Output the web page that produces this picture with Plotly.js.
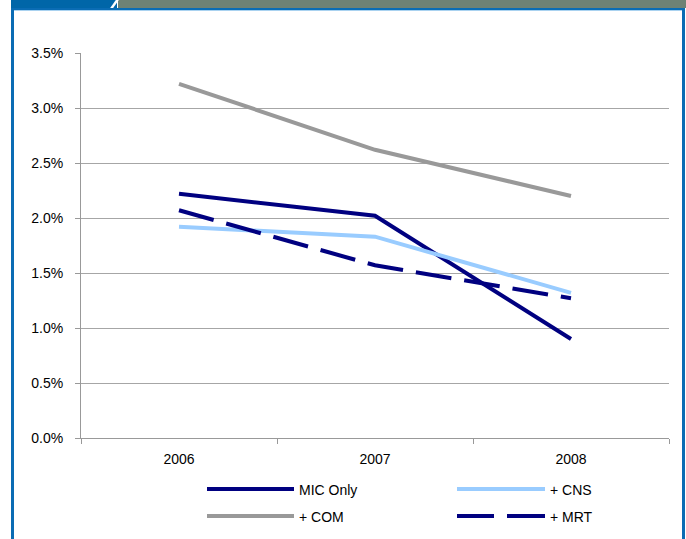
<!DOCTYPE html>
<html>
<head>
<meta charset="utf-8">
<script src="https://cdn.plot.ly/plotly-3.0.1.min.js"></script>
<style>
  html, body { margin: 0; padding: 0; background: #ffffff; }
  #wrap { position: relative; width: 686px; height: 539px; overflow: hidden; }
  #chart { position: absolute; left: 0; top: 0; width: 686px; height: 539px; }
  /* slide-style frame around the chart */
  .hdr-blue { position: absolute; left: 11px; top: 0; width: 106px; height: 8px; background: #0066a8; }
  .hdr-grey { position: absolute; left: 118px; top: 0; width: 568px; height: 8px; background: #6e8275; }
  .hdr-cut { position: absolute; left: 113px; top: -2px; width: 3px; height: 12px; background: #ffffff; transform: skewX(-35deg); }
  .rule { position: absolute; left: 11px; top: 8px; width: 674px; height: 2px; background: #0a6cb4; }
  .rule2 { position: absolute; left: 13px; top: 10px; width: 669px; height: 1px; background: #a9d2f0; }
  .side-l { position: absolute; left: 11px; top: 8px; width: 3px; height: 531px; background: #0a6cb4; }
  .side-r { position: absolute; left: 682px; top: 8px; width: 3px; height: 531px; background: #0a6cb4; }
</style>
</head>
<body>
<div id="wrap">
  <div id="chart"></div>
  <div class="hdr-blue"></div>
  <div class="hdr-grey"></div>
  <div class="hdr-cut"></div>
  <div class="rule"></div>
  <div class="rule2"></div>
  <div class="side-l"></div>
  <div class="side-r"></div>
</div>
<script>
// Categories (years) and series values, in percent
const years = ['2006', '2007', '2008'];
const seriesNames = ['MIC Only', '+ CNS', '+ COM', '+ MRT'];
const micOnly = [2.22, 2.02, 0.90];
const plusCNS = [1.92, 1.83, 1.32];
const plusCOM = [3.22, 2.62, 2.20];
const plusMRT = [2.07, 1.57, 1.27];
const yTickVals = [0, 0.5, 1, 1.5, 2, 2.5, 3, 3.5];
const yTickLabels = ['0.0%', '0.5%', '1.0%', '1.5%', '2.0%', '2.5%', '3.0%', '3.5%'];

const seriesValues = [micOnly, plusCNS, plusCOM, plusMRT];
const styles = [
  { color: '#000080', width: 4, dash: 'solid' },
  { color: '#99ccff', width: 4, dash: 'solid' },
  { color: '#999999', width: 4, dash: 'solid' },
  { color: '#000080', width: 4, dash: '36px,13px' }
];

const traces = seriesNames.map((name, i) => ({
  type: 'scatter',
  mode: 'lines',
  name: name,
  x: years,
  y: seriesValues[i],
  line: { color: styles[i].color, width: styles[i].width, dash: styles[i].dash },
  hoverinfo: 'x+y+name',
  showlegend: false
}));

// Plot area in pixels, used to place the hand-built legend
const W = 686, H = 539;
const M = { l: 81, r: 17, t: 53, b: 101 };
const pw = W - M.l - M.r, ph = H - M.t - M.b;
const px = x => (x - M.l) / pw;
const py = y => (H - M.b - y) / ph;

// legend grid: two columns, two rows (order: MIC Only, + CNS / + COM, + MRT)
const legendSlots = [
  { x0: 207, x1: 294, y: 489 },
  { x0: 457, x1: 545, y: 489 },
  { x0: 207, x1: 294, y: 516 },
  { x0: 457, x1: 545, y: 516 }
];

const shapes = [];
const annotations = [];
seriesNames.forEach((name, i) => {
  const s = legendSlots[i];
  const st = styles[i];
  if (st.dash === 'solid') {
    shapes.push({ type: 'line', xref: 'paper', yref: 'paper',
      x0: px(s.x0), x1: px(s.x1), y0: py(s.y), y1: py(s.y),
      line: { color: st.color, width: st.width } });
  } else {
    // dashed sample: two long dashes with a gap
    shapes.push({ type: 'line', xref: 'paper', yref: 'paper',
      x0: px(s.x0), x1: px(s.x0 + 37), y0: py(s.y), y1: py(s.y),
      line: { color: st.color, width: st.width } });
    shapes.push({ type: 'line', xref: 'paper', yref: 'paper',
      x0: px(s.x1 - 38), x1: px(s.x1), y0: py(s.y), y1: py(s.y),
      line: { color: st.color, width: st.width } });
  }
  annotations.push({ xref: 'paper', yref: 'paper', x: px(s.x1 + 3), y: py(s.y + 1),
    xanchor: 'left', yanchor: 'middle', showarrow: false, text: name,
    font: { family: 'Liberation Sans, Arial, sans-serif', size: 14, color: '#000000' } });
});

const font = { family: 'Liberation Sans, Arial, sans-serif', size: 14, color: '#000000' };

const layout = {
  width: W, height: H,
  margin: M,
  paper_bgcolor: 'rgba(0,0,0,0)',
  plot_bgcolor: '#ffffff',
  font: font,
  showlegend: false,
  xaxis: {
    type: 'category',
    range: [-0.5, 2.5],
    tickson: 'boundaries',
    ticks: 'outside', ticklen: 5, tickcolor: '#999999', tickwidth: 1,
    showline: true, linecolor: '#999999', linewidth: 1,
    showgrid: false, zeroline: false,
    ticklabelstandoff: 8,
    tickfont: font
  },
  yaxis: {
    range: [0, 3.5],
    tickmode: 'array',
    tickvals: yTickVals,
    ticktext: yTickLabels,
    ticks: 'outside', ticklen: 5, tickcolor: '#999999', tickwidth: 1,
    showline: true, linecolor: '#999999', linewidth: 1,
    showgrid: true, gridcolor: '#a6a6a6', gridwidth: 1,
    zeroline: false,
    ticklabelstandoff: 9,
    tickfont: font
  },
  shapes: shapes,
  annotations: annotations
};

Plotly.newPlot('chart', traces, layout, { displayModeBar: false, staticPlot: true });
</script>
</body>
</html>
